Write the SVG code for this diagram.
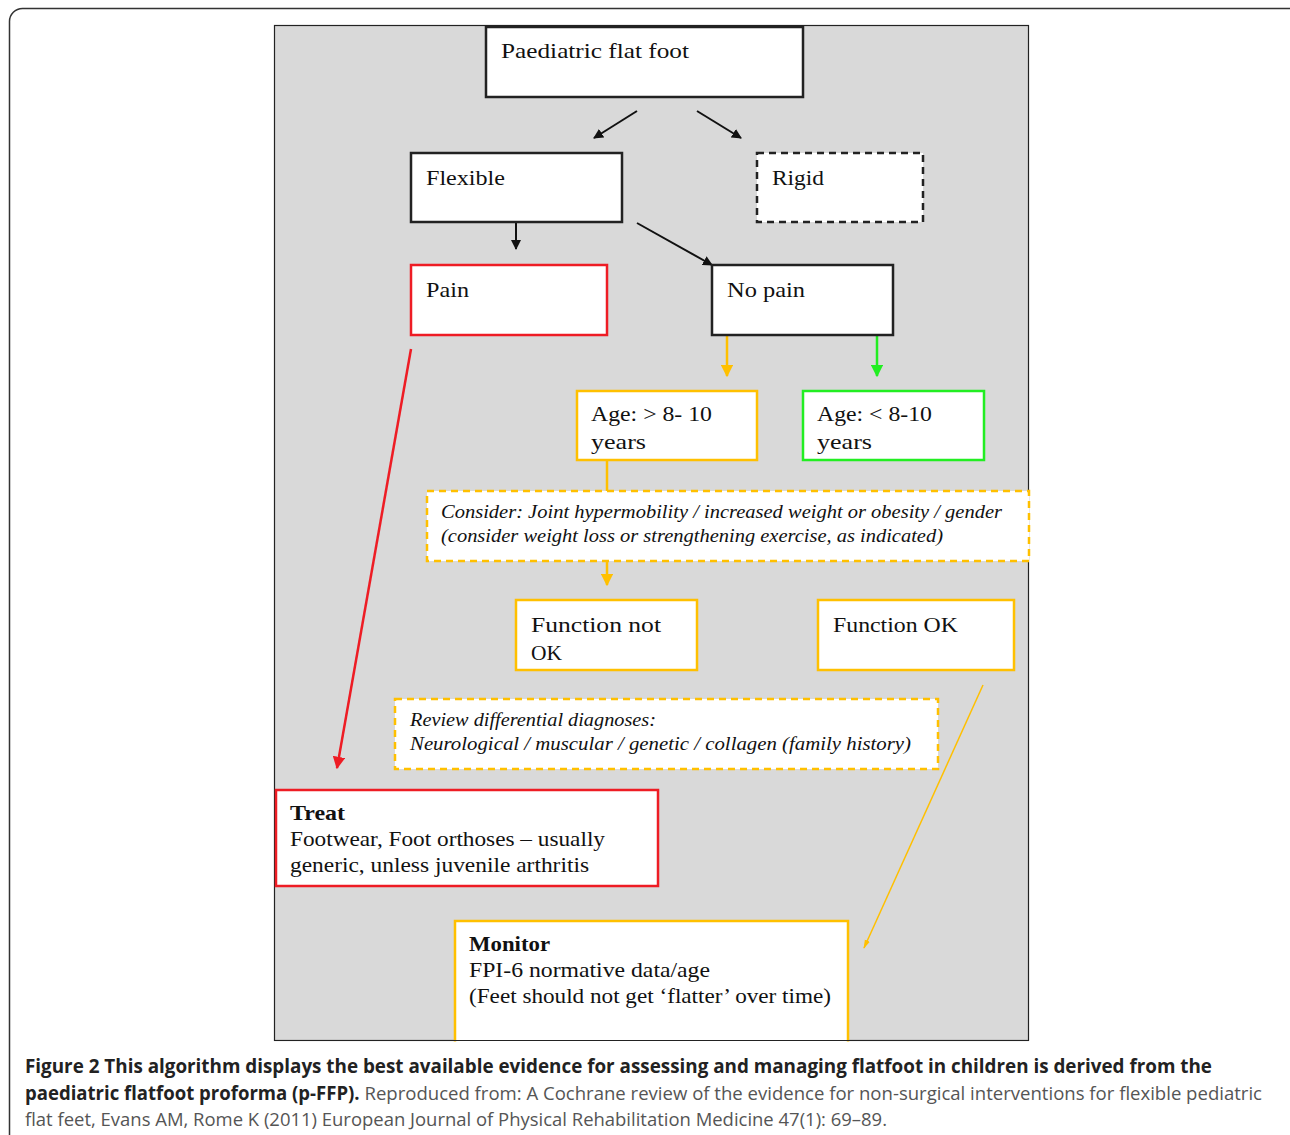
<svg xmlns="http://www.w3.org/2000/svg" width="1290" height="1135" viewBox="0 0 1290 1135">
<style>
.t{font-family:"Liberation Serif",serif;font-size:22px;fill:#111}
.i{font-family:"Liberation Serif",serif;font-size:19px;font-style:italic;fill:#111}
.b{font-weight:bold}
.box{fill:#fff;stroke-width:2.5}
.k{stroke:#222}
.r{stroke:#ee1c24}
.y{stroke:#ffc000}
.g{stroke:#22ee22}
.d{stroke-dasharray:7 5}
.cap{font-family:"Open Sans","Liberation Sans",sans-serif;font-size:19px}
</style>
<defs>
<marker id="ak" viewBox="0 0 10 10" refX="9" refY="5" markerWidth="5" markerHeight="5" orient="auto"><path d="M0,0L10,5L0,10z" fill="#111"/></marker>
<marker id="ay" viewBox="0 0 10 10" refX="9" refY="5" markerWidth="5" markerHeight="5" orient="auto"><path d="M0,0L10,5L0,10z" fill="#ffc000"/></marker>
<marker id="ag" viewBox="0 0 10 10" refX="9" refY="5" markerWidth="5" markerHeight="5" orient="auto"><path d="M0,0L10,5L0,10z" fill="#22ee22"/></marker>
<marker id="ar" viewBox="0 0 10 10" refX="9" refY="5" markerWidth="5" markerHeight="5" orient="auto"><path d="M0,0L10,5L0,10z" fill="#ee1c24"/></marker>
<marker id="ay2" viewBox="0 0 10 10" refX="9" refY="5" markerWidth="6" markerHeight="6" orient="auto"><path d="M0,2L10,5L0,8z" fill="#ffc000"/></marker>
</defs>
<rect width="1290" height="1135" fill="#fff"/>
<rect x="9.5" y="8.5" width="1292" height="1300" rx="13" fill="none" stroke="#333" stroke-width="1.5"/>
<rect x="274.5" y="25.5" width="754" height="1015" fill="#d9d9d9" stroke="#222" stroke-width="1.2"/>

<g id="connectors" fill="none">
<line x1="637" y1="111" x2="594" y2="138" stroke="#111" stroke-width="2" marker-end="url(#ak)"/>
<line x1="697" y1="111" x2="741" y2="138" stroke="#111" stroke-width="2" marker-end="url(#ak)"/>
<line x1="516" y1="223" x2="516" y2="249" stroke="#111" stroke-width="2" marker-end="url(#ak)"/>
<line x1="637" y1="223" x2="712" y2="265" stroke="#111" stroke-width="2" marker-end="url(#ak)"/>
<line x1="727" y1="336" x2="727" y2="376" stroke="#ffc000" stroke-width="2.5" marker-end="url(#ay)"/>
<line x1="877" y1="336" x2="877" y2="376" stroke="#22ee22" stroke-width="2.5" marker-end="url(#ag)"/>
<line x1="607" y1="461" x2="607" y2="491" stroke="#ffc000" stroke-width="2.5"/>
<line x1="607" y1="562" x2="607" y2="585" stroke="#ffc000" stroke-width="2.5" marker-end="url(#ay)"/>
<line x1="411" y1="349" x2="337" y2="768" stroke="#ee1c24" stroke-width="2.5" marker-end="url(#ar)"/>
<line x1="983" y1="685" x2="864" y2="948" stroke="#ffc000" stroke-width="1.5" marker-end="url(#ay2)"/>
</g>

<g id="n-paediatric"><rect class="box k" x="486" y="27" width="317" height="70"/><text class="t" x="501" y="58" textLength="188" lengthAdjust="spacingAndGlyphs">Paediatric flat foot</text></g>
<g id="n-flexible"><rect class="box k" x="411" y="153" width="211" height="69"/><text class="t" x="426" y="185" textLength="79" lengthAdjust="spacingAndGlyphs">Flexible</text></g>
<g id="n-rigid"><rect class="box k d" x="757" y="153" width="166" height="69"/><text class="t" x="772" y="185" textLength="52" lengthAdjust="spacingAndGlyphs">Rigid</text></g>
<g id="n-pain"><rect class="box r" x="411" y="265" width="196" height="70"/><text class="t" x="426" y="297" textLength="43" lengthAdjust="spacingAndGlyphs">Pain</text></g>
<g id="n-nopain"><rect class="box k" x="712" y="265" width="181" height="70"/><text class="t" x="727" y="297" textLength="78" lengthAdjust="spacingAndGlyphs">No pain</text></g>
<g id="n-age-gt"><rect class="box y" x="577" y="391" width="180" height="69"/><text class="t" x="591" y="421" textLength="121" lengthAdjust="spacingAndGlyphs">Age: &gt; 8- 10</text><text class="t" x="591" y="449" textLength="55" lengthAdjust="spacingAndGlyphs">years</text></g>
<g id="n-age-lt"><rect class="box g" x="803" y="391" width="181" height="69"/><text class="t" x="817" y="421" textLength="115" lengthAdjust="spacingAndGlyphs">Age: &lt; 8-10</text><text class="t" x="817" y="449" textLength="55" lengthAdjust="spacingAndGlyphs">years</text></g>
<g id="n-consider"><rect class="box y d" x="427" y="491" width="602" height="70"/><text class="i" x="441" y="518" textLength="561" lengthAdjust="spacingAndGlyphs">Consider: Joint hypermobility / increased weight or obesity / gender</text><text class="i" x="441" y="542" textLength="502" lengthAdjust="spacingAndGlyphs">(consider weight loss or strengthening exercise, as indicated)</text></g>
<g id="n-fnotok"><rect class="box y" x="516" y="600" width="181" height="70"/><text class="t" x="531" y="632" textLength="130" lengthAdjust="spacingAndGlyphs">Function not</text><text class="t" x="531" y="660" textLength="31" lengthAdjust="spacingAndGlyphs">OK</text></g>
<g id="n-fok"><rect class="box y" x="818" y="600" width="196" height="70"/><text class="t" x="833" y="632" textLength="125" lengthAdjust="spacingAndGlyphs">Function OK</text></g>
<g id="n-review"><rect class="box y d" x="395" y="699" width="543" height="70"/><text class="i" x="410" y="726" textLength="246" lengthAdjust="spacingAndGlyphs">Review differential diagnoses:</text><text class="i" x="410" y="750" textLength="501" lengthAdjust="spacingAndGlyphs">Neurological / muscular / genetic / collagen (family history)</text></g>
<g id="n-treat"><rect class="box r" x="276" y="790" width="382" height="96"/><text class="t b" x="290" y="820" textLength="55" lengthAdjust="spacingAndGlyphs">Treat</text><text class="t" x="290" y="846" textLength="315" lengthAdjust="spacingAndGlyphs">Footwear, Foot orthoses – usually</text><text class="t" x="290" y="872" textLength="299" lengthAdjust="spacingAndGlyphs">generic, unless juvenile arthritis</text></g>
<g id="n-monitor"><rect class="box y" x="455" y="921" width="393" height="125"/><text class="t b" x="469" y="951" textLength="81" lengthAdjust="spacingAndGlyphs">Monitor</text><text class="t" x="469" y="977" textLength="241" lengthAdjust="spacingAndGlyphs">FPI-6 normative data/age</text><text class="t" x="469" y="1003" textLength="362" lengthAdjust="spacingAndGlyphs">(Feet should not get ‘flatter’ over time)</text></g>
<rect x="270" y="1041.5" width="765" height="10" fill="#fff"/>
<line x1="274" y1="1040.5" x2="1029" y2="1040.5" stroke="#222" stroke-width="1.2"/>

<g id="caption" class="cap">
<text x="25" y="1073" font-weight="bold" fill="#222" textLength="1187" lengthAdjust="spacingAndGlyphs">Figure 2 This algorithm displays the best available evidence for assessing and managing flatfoot in children is derived from the</text>
<text x="25" y="1100" textLength="1237" lengthAdjust="spacingAndGlyphs"><tspan font-weight="bold" fill="#222">paediatric flatfoot proforma (p-FFP).</tspan><tspan fill="#555"> Reproduced from: A Cochrane review of the evidence for non-surgical interventions for flexible pediatric</tspan></text>
<text x="25" y="1126" fill="#555" textLength="862" lengthAdjust="spacingAndGlyphs">flat feet, Evans AM, Rome K (2011) European Journal of Physical Rehabilitation Medicine 47(1): 69–89.</text>
</g>
</svg>
